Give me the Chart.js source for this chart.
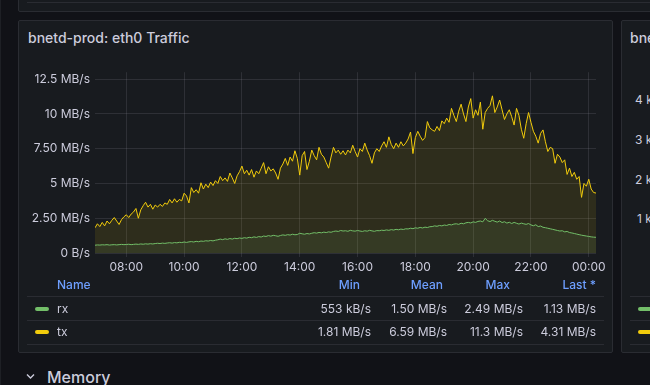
<!DOCTYPE html>
<html>
<head>
<meta charset="utf-8">
<script src="https://cdn.jsdelivr.net/npm/chart.js@4.4.1/dist/chart.umd.min.js"></script>
<style>
  html, body { margin: 0; padding: 0; }
  body {
    width: 650px; height: 385px; overflow: hidden; position: relative;
    background: #111217; font-family: Inter, "Noto Sans", sans-serif; color: #ccccdc;
  }
  .abs { position: absolute; }
  .panel { background: #181b1f; border: 1px solid #2a2c32; border-radius: 2px; box-sizing: border-box; }
  .title { font-size: 14px; font-weight: 500; line-height: 18px; white-space: nowrap; }
  .hdr { font-size: 12px; font-weight: 500; color: #6e9fff; line-height: 14px; white-space: nowrap; }
  .val { font-size: 12px; line-height: 14px; white-space: nowrap; }
  .sep { height: 1px; background: #2a2c32; }
  .mark { width: 14px; height: 4px; border-radius: 2px; }
  .rtxt { text-align: right; }
</style>
</head>
<body>
<div class="abs" style="left:0;top:0;width:1px;height:385px;background:#1e2025"></div>
<!-- panel above (only its bottom shows) -->
<div class="abs panel" style="left:18px;top:-40px;width:660px;height:52px"></div>
<div class="abs sep" style="left:27px;top:2px;width:640px"></div>

<!-- main panel -->
<div class="abs panel" style="left:18px;top:20px;width:595px;height:333px"></div>
<div class="abs title" style="left:28px;top:29px">bnetd-prod: eth0 Traffic</div>
<div class="abs" style="left:20px;top:60px;width:600px;height:220px"><canvas id="grafico"></canvas></div>

<div id="leyenda"></div>

<!-- panel on the right, cut off -->
<div class="abs panel" style="left:621px;top:20px;width:60px;height:333px"></div>
<div class="abs title" style="left:630px;top:29px">bnetd-prod</div>
<div class="abs val" style="left:635px;top:93px">4 k</div>
<div class="abs val" style="left:635px;top:133px">3 k</div>
<div class="abs val" style="left:635px;top:173px">2 k</div>
<div class="abs val" style="left:637px;top:212px">1 k</div>
<div class="abs sep" style="left:630px;top:296px;width:30px"></div>
<div class="abs sep" style="left:630px;top:320px;width:30px"></div>
<div class="abs sep" style="left:630px;top:344px;width:30px"></div>
<div class="abs mark" style="left:638px;top:307px;background:#73bf69"></div>
<div class="abs mark" style="left:638px;top:330px;background:#f2cc0c"></div>

<!-- row below -->
<svg class="abs" style="left:26px;top:373px" width="9" height="7"><path d="M1 1.5 L4.5 5 L8 1.5" stroke="#ccccdc" stroke-width="1.4" fill="none"/></svg>
<div class="abs" style="left:47px;top:367px;font-size:16px;font-weight:500;line-height:20px">Memory</div>

<script>
// horas (06:55 -> 00:15, cada 5 min)
const inicioHora = 6 + 55 / 60;
const pasoHora = 5 / 60;

const xTickValues = [8, 10, 12, 14, 16, 18, 20, 22, 24];
const xTickLabels = ['08:00', '10:00', '12:00', '14:00', '16:00', '18:00', '20:00', '22:00', '00:00'];
const yTickValues = [0, 2.5, 5, 7.5, 10, 12.5];
const yTickLabels = ['0 B/s', '2.50 MB/s', '5 MB/s', '7.50 MB/s', '10 MB/s', '12.5 MB/s'];

// MB/s
const rx = [
  0.56,0.58,0.57,0.59,0.58,0.6,0.57,0.59,0.6,0.58,
  0.6,0.62,0.6,0.61,0.63,0.6,0.62,0.64,0.62,0.65,
  0.63,0.66,0.64,0.67,0.65,0.68,0.7,0.68,0.71,0.69,
  0.72,0.74,0.71,0.75,0.73,0.77,0.75,0.79,0.76,0.8,
  0.82,0.79,0.84,0.81,0.86,0.84,0.88,0.86,0.9,0.87,
  0.92,0.95,1.0,0.96,1.02,0.98,1.04,1.0,1.06,1.03,
  1.08,1.05,1.1,1.07,1.13,1.1,1.16,1.12,1.18,1.15,
  1.22,1.19,1.25,1.21,1.27,1.24,1.2,1.26,1.3,1.27,
  1.32,1.29,1.35,1.31,1.33,1.42,1.38,1.35,1.4,1.37,
  1.42,1.46,1.43,1.48,1.45,1.5,1.47,1.52,1.49,1.55,
  1.58,1.55,1.62,1.58,1.6,1.56,1.63,1.59,1.57,1.62,
  1.58,1.55,1.6,1.57,1.63,1.59,1.56,1.61,1.6,1.64,
  1.62,1.66,1.63,1.68,1.65,1.7,1.67,1.72,1.69,1.74,
  1.73,1.78,1.75,1.81,1.78,1.84,1.8,1.86,1.83,1.89,
  1.9,1.95,1.92,1.98,1.95,2.01,1.98,2.05,2.02,2.08,
  2.1,2.06,2.14,2.1,2.17,2.2,2.16,2.24,2.2,2.27,
  2.3,2.24,2.49,2.32,2.26,2.35,2.28,2.22,2.3,2.19,
  2.25,2.15,2.21,2.12,2.2,2.14,2.08,2.15,2.1,2.06,
  2.12,2.02,1.96,2.03,1.9,1.94,1.85,1.82,1.78,1.74,
  1.7,1.66,1.62,1.58,1.6,1.52,1.55,1.47,1.44,1.4,
  1.36,1.32,1.28,1.25,1.22,1.19,1.16,1.14,1.13
];
const tx = [
  1.81,2.1,1.9,2.2,1.95,2.3,2.1,2.35,2.55,2.3,
  2.05,2.4,2.6,2.75,2.55,2.8,2.95,3.2,2.5,3.1,
  3.4,3.65,3.3,3.5,3.15,3.45,3.3,3.5,3.35,3.6,
  3.5,3.85,3.6,3.9,3.65,3.85,3.75,4.3,4.1,3.6,
  4.7,4.35,4.55,4.3,5.05,4.6,4.95,4.7,5.1,4.85,
  5.2,5.0,5.5,5.2,5.4,5.15,5.75,5.4,5.0,5.55,
  5.85,6.25,5.7,5.95,5.6,6.0,5.45,5.9,5.7,6.1,
  6.5,5.7,6.2,5.9,6.05,5.75,5.3,6.1,6.4,6.8,
  6.3,6.9,6.6,7.35,6.8,5.6,7.0,7.3,6.0,6.6,
  7.4,7.0,6.7,7.6,7.1,6.9,6.5,6.1,6.9,7.6,
  7.2,7.4,7.1,7.35,7.05,7.4,7.2,7.75,7.3,6.9,
  7.5,7.3,7.9,7.4,7.0,6.45,7.2,7.5,7.3,7.7,
  8.0,7.6,8.35,7.8,7.5,7.9,7.6,8.0,7.7,7.9,
  8.2,8.7,7.15,8.3,8.75,8.4,8.1,8.3,9.45,9.0,
  8.85,8.75,9.1,8.8,9.5,9.3,9.7,9.4,10.4,9.9,
  9.45,10.2,10.7,10.0,9.45,10.5,11.1,9.7,10.3,9.9,
  10.85,8.9,10.1,10.4,10.6,11.3,10.1,10.5,11.0,10.3,
  9.6,10.0,10.3,9.8,9.2,10.4,9.9,8.9,8.25,9.3,
  10.1,9.4,8.75,8.4,7.9,8.6,8.85,8.0,7.3,7.6,
  7.5,6.45,7.1,6.9,6.5,6.7,5.65,6.1,5.5,5.8,
  5.3,5.5,4.0,5.0,4.8,5.3,4.6,4.35,4.31
];

const nombres = ['rx', 'tx'];
const colores = ['#73bf69', '#f2cc0c'];
const rellenos = ['rgba(115,191,105,0.1)', 'rgba(242,204,12,0.1)'];
const columnas = ['Min', 'Mean', 'Max', 'Last *'];
const stats = [
  ['553 kB/s', '1.50 MB/s', '2.49 MB/s', '1.13 MB/s'],
  ['1.81 MB/s', '6.59 MB/s', '11.3 MB/s', '4.31 MB/s']
];

const aPuntos = (serie) => serie.map((v, i) => ({ x: inicioHora + i * pasoHora, y: v }));

// tabla de leyenda
const leyenda = document.getElementById('leyenda');
const agregar = (cls, estilo, texto) => {
  const div = document.createElement('div');
  div.className = 'abs ' + cls;
  div.style.cssText = estilo;
  if (texto) div.textContent = texto;
  leyenda.appendChild(div);
};
const hdrRight = [360, 443, 510, 596];
const valRight = [371, 447, 523, 596];
agregar('hdr', 'left:57px;top:278px', 'Name');
columnas.forEach((c, i) => agregar('hdr rtxt', `right:${650 - hdrRight[i]}px;top:278px`, c));
[296, 320, 344].forEach(y => agregar('sep', `left:27px;top:${y}px;width:577px`));
nombres.forEach((n, r) => {
  const cy = 309 + r * 23;
  agregar('mark', `left:35px;top:${cy - 2}px;background:${colores[r]}`);
  agregar('val', `left:57px;top:${cy - 7}px`, n);
  stats[r].forEach((s, i) => agregar('val rtxt', `right:${650 - valRight[i]}px;top:${cy - 7}px`, s));
});

Chart.defaults.font.family = 'Inter';
Chart.defaults.font.size = 12;
Chart.defaults.color = '#ccccdc';

const gridColor = 'rgba(204,204,220,0.12)';

new Chart(document.getElementById('grafico').getContext('2d'), {
  type: 'line',
  data: {
    datasets: [
      { label: nombres[0], data: aPuntos(rx), borderColor: colores[0], backgroundColor: rellenos[0], order: 0 },
      { label: nombres[1], data: aPuntos(tx), borderColor: colores[1], backgroundColor: rellenos[1], order: 1 }
    ]
  },
  options: {
    responsive: true,
    maintainAspectRatio: false,
    animation: false,
    layout: { padding: { top: 9, right: 24, left: 0, bottom: 0 } },
    elements: {
      line: { borderWidth: 1, tension: 0, fill: 'origin' },
      point: { radius: 0 }
    },
    plugins: { legend: { display: false }, tooltip: { enabled: false } },
    scales: {
      x: {
        type: 'linear',
        min: inicioHora,
        max: inicioHora + (tx.length - 1) * pasoHora,
        afterBuildTicks: (s) => { s.ticks = xTickValues.map(v => ({ value: v })); },
        afterFit: (s) => { s.height = 27; },
        grid: { color: gridColor, tickLength: 4 },
        border: { display: false },
        ticks: {
          padding: 3, maxRotation: 0, autoSkip: false,
          callback: (v) => xTickLabels[xTickValues.indexOf(v)]
        }
      },
      y: {
        min: 0,
        max: 13,
        afterBuildTicks: (s) => { s.ticks = yTickValues.map(v => ({ value: v })); },
        afterFit: (s) => { s.width = 75; },
        grid: { color: gridColor, drawTicks: false },
        border: { display: false },
        ticks: {
          padding: 5,
          callback: (v) => yTickLabels[yTickValues.indexOf(v)]
        }
      }
    }
  }
});
</script>
</body>
</html>
